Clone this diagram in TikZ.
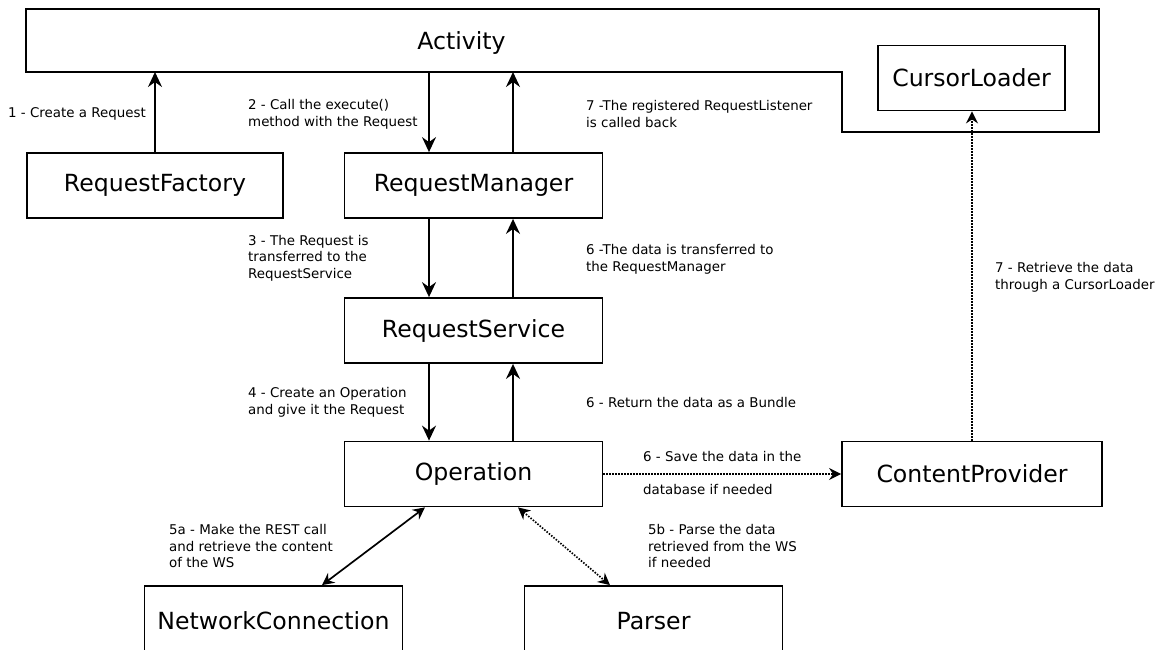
\documentclass[tikz,border=0pt]{standalone}
\usepackage{fontspec}
\setmainfont{DejaVu Sans}
\usetikzlibrary{arrows.meta}

\tikzset{
  box/.style={draw, line width=1.8pt, minimum width=258pt, minimum height=65pt,
              inner sep=0pt, font=\fontsize{23.6}{28}\selectfont},
  lbl/.style={anchor=west, align=left, inner sep=0pt,
              font=\fontsize{13.4}{16.6}\selectfont},
  bighead/.style={Stealth[length=15pt,width=14pt,inset=5pt]},
  smallhead/.style={Stealth[length=12pt,width=12pt,inset=4pt]},
  arr/.style={line width=1.8pt, -{Stealth[length=15pt,width=14pt,inset=5pt]}},
  dotarr/.style={line width=1.7pt, dash pattern=on 1.5pt off 1.5pt,
                 -{Stealth[length=12pt,width=12pt,inset=4pt]}},
  biarr/.style={line width=1.7pt,
                {Stealth[length=12pt,width=12pt,inset=4pt]}-{Stealth[length=12pt,width=12pt,inset=4pt]}},
  bidot/.style={line width=1.7pt, dash pattern=on 1.5pt off 1.5pt,
                {Stealth[length=12pt,width=12pt,inset=4pt]}-{Stealth[length=12pt,width=12pt,inset=4pt]}},
}

\begin{document}
\begin{tikzpicture}[x=1pt, y=-1pt]
\clip (0,0) rectangle (1161,649);
\fill[white] (0,0) rectangle (1161,649);

% Activity outline with the CursorLoader pocket
\draw[line width=1.8pt] (26,9) -- (1099,9) -- (1099,132) -- (842,132)
      -- (842,72) -- (26,72) -- cycle;
\coordinate (actb) at (26,72);
\node[font=\fontsize{23.6}{28}\selectfont] (act) at (461.5,43) {Activity};

% components
\node[box, minimum width=187pt] (cl) at (971.5,78) {CursorLoader};
\node[box, minimum width=256pt] (rf) at (155,185.5) {RequestFactory};
\node[box] (rm) at (473.5,185.5) {RequestManager};
\node[box] (rs) at (473.5,330.5) {RequestService};
\node[box] (op) at (473.5,474) {Operation};
\node[box, minimum width=260pt] (cp) at (972,474) {ContentProvider};
\node[box, minimum height=70pt] (nc) at (273.5,621) {NetworkConnection};
\node[box, minimum height=70pt] (pa) at (653.5,621) {Parser};

% calls and returns
\draw[arr] (rf.north) -- (rf.north |- actb);
\draw[arr] ([xshift=-44.5pt]rm.north |- actb) -- ([xshift=-44.5pt]rm.north);
\draw[arr] ([xshift=39.5pt]rm.north) -- ([xshift=39.5pt]rm.north |- actb);
\draw[arr] ([xshift=-44.5pt]rm.south) -- ([xshift=-44.5pt]rs.north);
\draw[arr] ([xshift=39.5pt]rs.north) -- ([xshift=39.5pt]rm.south);
\draw[arr] ([xshift=-44.5pt]rs.south) -- ([xshift=-44.5pt]op.north);
\draw[arr] ([xshift=39.5pt]op.north) -- ([xshift=39.5pt]rs.south);
\draw[dotarr] (op.east) -- (cp.west);
\draw[dotarr] (cp.north) -- (cp.north |- cl.south);
\draw[biarr] ([xshift=-48.5pt]op.south) -- ([xshift=48.5pt]nc.north);
\draw[bidot] ([xshift=44.5pt]op.south) -- ([xshift=-43.5pt]pa.north);

% step labels
\node[lbl] (l1) at (8,114) {1 - Create a Request};
\node[lbl] (l2) at (248,114) {2 - Call the execute()\\method with the Request};
\node[lbl] (l7a) at (586,114) {7 -The registered RequestListener\\is called back};
\node[lbl] (l3) at (248,258) {3 - The Request is\\transferred to the\\RequestService};
\node[lbl] (l6a) at (586,259) {6 -The data is transferred to\\the RequestManager};
\node[lbl] (l7b) at (995,277) {7 - Retrieve the data\\through a CursorLoader};
\node[lbl] (l4) at (248,402) {4 - Create an Operation\\and give it the Request};
\node[lbl] (l6b) at (586,402) {6 - Return the data as a Bundle};
\node[lbl] (l6c) at (643,456) {6 - Save the data in the};
\node[lbl] (l6d) at (643,489) {database if needed};
\node[lbl] (l5a) at (169,546) {5a - Make the REST call\\and retrieve the content\\of the WS};
\node[lbl] (l5b) at (648,546) {5b - Parse the data\\retrieved from the WS\\if needed};
\end{tikzpicture}
\end{document}
